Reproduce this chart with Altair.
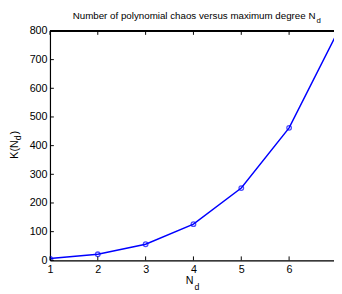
import altair as alt
import pandas as pd

nd = [1, 2, 3, 4, 5, 6, 7]
k = [6, 21, 56, 126, 252, 462, 792]
x_ticks = [1, 2, 3, 4, 5, 6]
y_ticks = [0, 100, 200, 300, 400, 500, 600, 700, 800]

W, H = 291, 235
X_DOM = [1, 1 + W / 49.0]
Y_DOM = [0, 800]
FONT = "Liberation Sans"

df = pd.DataFrame({"Nd": nd, "K": k})
xt = pd.DataFrame({"v": x_ticks})
yt = pd.DataFrame({"v": y_ticks})

xs = alt.Scale(domain=X_DOM, nice=False, zero=False)
ys = alt.Scale(domain=Y_DOM, nice=False)

xaxis = alt.Axis(values=x_ticks, ticks=False, grid=False, domainColor="black",
                 domainWidth=1.2, labelFont=FONT, labelFontSize=11, labelColor="black",
                 labelPadding=4, title=None, labelFlush=False, labelOverlap=False)
yaxis = alt.Axis(values=y_ticks, ticks=False, grid=False, domainColor="black",
                 domainWidth=1.2, labelFont=FONT, labelFontSize=11, labelColor="black",
                 labelPadding=3, title=None, labelOverlap=False, labelFlush=False)

base = alt.Chart(df)
line = base.mark_line(color="#0000ff", strokeWidth=1.5, clip=True).encode(
    x=alt.X("Nd:Q", scale=xs, axis=xaxis),
    y=alt.Y("K:Q", scale=ys, axis=yaxis),
)
pts = base.mark_point(color="#0000ff", size=22, strokeWidth=1.3, filled=False, clip=True).encode(
    x=alt.X("Nd:Q", scale=xs, axis=xaxis), y=alt.Y("K:Q", scale=ys, axis=yaxis)
)

bot_ticks = alt.Chart(xt).mark_rule(color="black", strokeWidth=1).encode(
    x=alt.X("v:Q", scale=xs, axis=xaxis), y=alt.value(H), y2=alt.value(H - 4)
)
top_ticks = alt.Chart(xt).mark_rule(color="black", strokeWidth=1).encode(
    x=alt.X("v:Q", scale=xs, axis=xaxis), y=alt.value(0), y2=alt.value(4)
)
left_ticks = alt.Chart(yt).mark_rule(color="black", strokeWidth=1).encode(
    y=alt.Y("v:Q", scale=ys, axis=yaxis), x=alt.value(0), x2=alt.value(4)
)
top_border = alt.Chart(xt).mark_rule(color="black", strokeWidth=1.2).encode(
    x=alt.value(0), x2=alt.value(W), y=alt.value(0)
)

def txt(s, x, y, size, align="left", angle=0):
    return alt.Chart(pd.DataFrame({"t": [s]})).mark_text(
        font=FONT, fontSize=size, color="black", align=align,
        baseline="alphabetic", angle=angle
    ).encode(text="t:N", x=alt.value(x), y=alt.value(y))

title_main = txt("Number of polynomial chaos versus maximum degree N", 272, -12, 10, "right")
title_sub = txt("d", 273, -8, 8)
xl_main = txt("N", 147, 259, 11, "right")
xl_sub = txt("d", 148, 265, 9)
yl_main = txt("K(N", -33, 112, 11, "right", 270)
yl_sub = txt("d", -30, 112, 9, "left", 270)
yl_end = txt(")", -33, 106, 11, "left", 270)

chart = alt.layer(
    line, pts, bot_ticks, top_ticks, left_ticks, top_border,
    title_main, title_sub, xl_main, xl_sub, yl_main, yl_sub, yl_end
).properties(
    width=W, height=H,
    autosize=alt.AutoSizeParams(type="none"),
    padding={"left": 43, "top": 20, "right": 0, "bottom": 31},
).configure_view(stroke=None).configure(background="white")

chart.save("out.html", embed_options={"renderer": "svg", "actions": False})
